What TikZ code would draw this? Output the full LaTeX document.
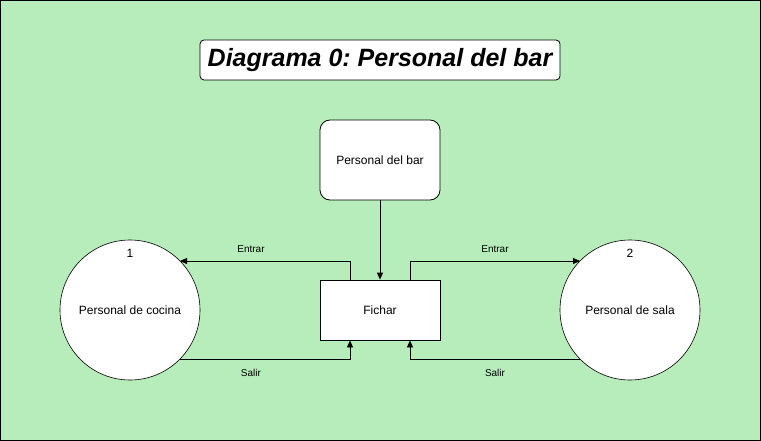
\documentclass[tikz,border=0pt]{standalone}
\usepackage{fontspec}
\setmainfont{Liberation Sans}
\usetikzlibrary{arrows.meta}
\definecolor{bg}{RGB}{182,237,186}
\begin{document}
\frenchspacing
\begin{tikzpicture}[x=1pt,y=-1pt,
  box/.style={draw=black,fill=white,line width=0.8pt,minimum width=120pt,inner sep=0pt,font=\fontsize{12}{14}\selectfont},
  proc/.style={draw=black,fill=white,circle,line width=0.6pt,minimum size=140pt,inner sep=0pt,font=\fontsize{12}{14}\selectfont},
  flow/.style={draw=black,line width=0.8pt,-{Triangle[length=7pt,width=6pt]}},
  lbl/.style={font=\fontsize{10}{12}\selectfont,inner sep=0pt}]
\useasboundingbox (0,0) rectangle (761,441);
\fill[bg,draw=black,line width=0.8pt] (0.5,0.5) rectangle (760.5,440.5);
\node[draw=black,fill=white,rounded corners=4pt,line width=0.8pt,minimum width=360pt,minimum height=40pt,inner sep=0pt,font=\fontsize{25}{30}\selectfont\bfseries\itshape] (title) at (380,60) {Diagrama 0: Personal del bar};
\node[box,rounded corners=10pt,minimum height=80pt] (bar) at (380,160) {Personal del bar};
\node[box,minimum height=60pt] (fichar) at (380,310) {Fichar};
\node[proc] (cocina) at (130,310) {Personal de cocina};
\node[proc] (sala) at (630,310) {Personal de sala};
\node[lbl,font=\fontsize{12}{14}\selectfont] (n1) at (130,253) {1};
\node[lbl,font=\fontsize{12}{14}\selectfont] (n2) at (630,253) {2};
\coordinate (cE) at (180,261);
\coordinate (cS) at (180,359);
\coordinate (sE) at (580,261);
\coordinate (sS) at (580,359);
\draw[flow] (bar.south) -- (fichar.north);
\draw[flow] ([xshift=-30pt]fichar.north) |- (cE);
\draw[flow] (cS) -| ([xshift=-30pt]fichar.south);
\draw[flow] ([xshift=30pt]fichar.north) |- (sE);
\draw[flow] (sS) -| ([xshift=30pt]fichar.south);
\node[lbl] (l1) at (251,249) {Entrar};
\node[lbl] (l2) at (251,373) {Salir};
\node[lbl] (l3) at (495,249) {Entrar};
\node[lbl] (l4) at (495,373) {Salir};
\end{tikzpicture}
\end{document}
